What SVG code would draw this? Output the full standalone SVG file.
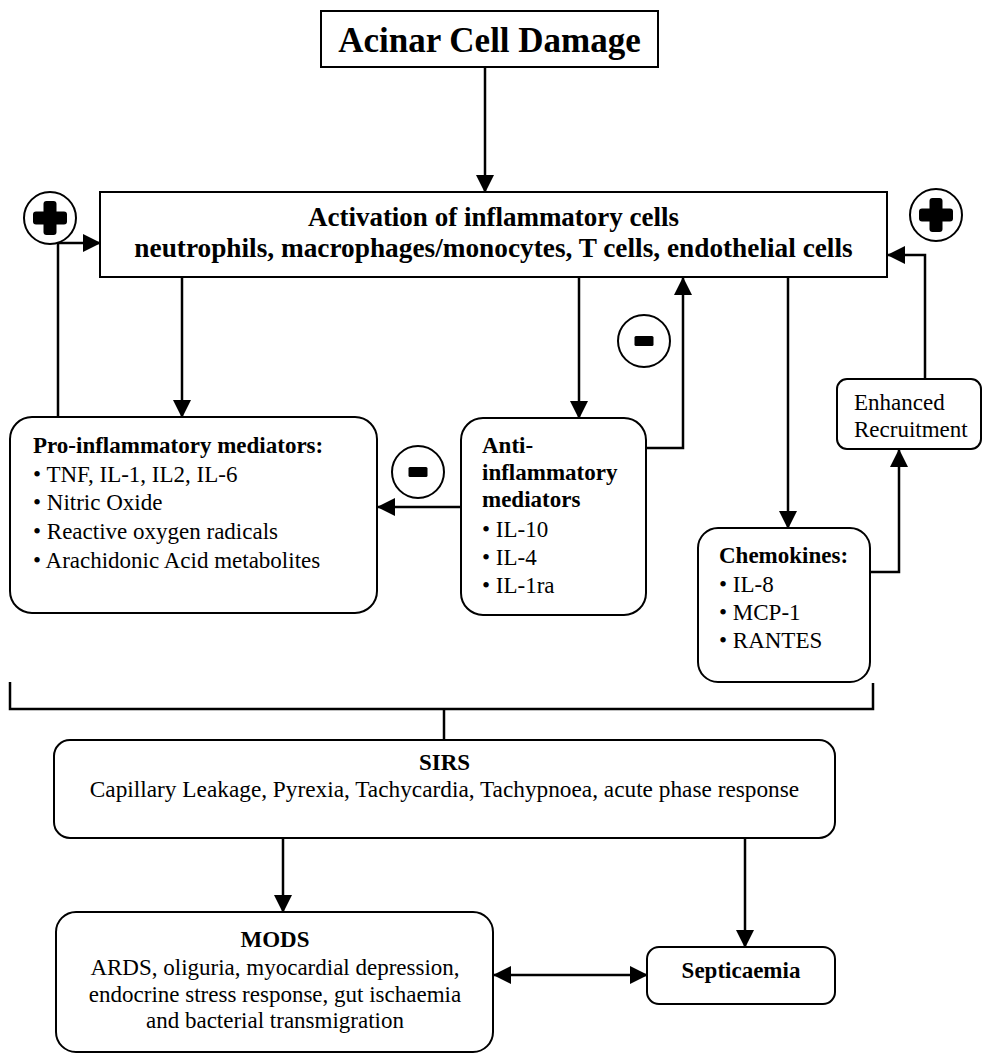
<svg xmlns="http://www.w3.org/2000/svg" width="983" height="1054" viewBox="0 0 983 1054">
<defs>
<marker id="ah" markerUnits="userSpaceOnUse" markerWidth="18" markerHeight="18" viewBox="0 0 18 18" refX="17" refY="9" orient="auto-start-reverse">
<path d="M0,0 L18,9 L0,18 z" fill="#000"/>
</marker>
<g id="plusSign">
<circle cx="0" cy="0" r="26" fill="#fff" stroke="#000" stroke-width="2"/>
<rect x="-17" y="-6.5" width="34" height="13" rx="3" fill="#000"/>
<rect x="-6.5" y="-17" width="13" height="34" rx="3" fill="#000"/>
</g>
<g id="minusSign">
<circle cx="0" cy="0" r="26" fill="#fff" stroke="#000" stroke-width="2"/>
<rect x="-9.5" y="-5" width="19" height="10" rx="1.5" fill="#000"/>
</g>
</defs>
<style>
text{font-family:"Liberation Serif","Times New Roman",serif;fill:#000}
.b{font-weight:bold}
.c{text-anchor:middle}
.t23{font-size:23px}
.box{fill:#fff;stroke:#000;stroke-width:2}
.ln{fill:none;stroke:#000;stroke-width:2.5}
.ar{fill:none;stroke:#000;stroke-width:2.5;marker-end:url(#ah)}
</style>
<rect width="983" height="1054" fill="#fff"/>

<g id="connectors">
<path class="ar" d="M485,67 V192"/>
<path class="ar" d="M58,417 V243 H100"/>
<path class="ar" d="M182,277 V417"/>
<path class="ar" d="M461,507 H378"/>
<path class="ar" d="M579,277 V418"/>
<path class="ar" d="M646,448 H683 V278"/>
<path class="ar" d="M788,277 V528"/>
<path class="ar" d="M870,572 H899 V450"/>
<path class="ar" d="M925,379 V255 H888"/>
<path class="ln" stroke-width="3" d="M10,682 V709 H873 V683"/>
<path class="ln" d="M444,709 V740"/>
<path class="ar" d="M283,838 V912"/>
<path class="ar" d="M745,838 V947"/>
<path class="ar" style="marker-start:url(#ah)" d="M494,975 H647"/>
</g>

<g id="signs">
<use href="#plusSign" x="50" y="218"/>
<use href="#plusSign" x="936" y="215"/>
<use href="#minusSign" x="418" y="472"/>
<use href="#minusSign" x="644" y="341"/>
</g>

<g id="acinar">
<rect class="box" x="321" y="11" width="337" height="56"/>
<text class="b c" x="489.5" y="52" font-size="35">Acinar Cell Damage</text>
</g>

<g id="activation">
<rect class="box" x="100" y="192" width="787" height="85"/>
<text class="b c" x="493.5" y="226" font-size="27">Activation of inflammatory cells</text>
<text class="b c" x="493.5" y="257" font-size="27.3">neutrophils, macrophages/monocytes, T cells, endothelial cells</text>
</g>

<g id="pro">
<rect class="box" x="10" y="417" width="367" height="196" rx="22"/>
<text class="b t23" x="33" y="453">Pro-inflammatory mediators:</text>
<text class="t23" x="33" y="482">• TNF, IL-1, IL2, IL-6</text>
<text class="t23" x="33" y="510">• Nitric Oxide</text>
<text class="t23" x="33" y="539">• Reactive oxygen radicals</text>
<text class="t23" x="33" y="568">• Arachidonic Acid metabolites</text>
</g>

<g id="anti">
<rect class="box" x="461" y="418" width="185" height="197" rx="22"/>
<text class="b t23" x="482" y="453">Anti-</text>
<text class="b t23" x="482" y="480">inflammatory</text>
<text class="b t23" x="482" y="507">mediators</text>
<text class="t23" x="482" y="537">• IL-10</text>
<text class="t23" x="482" y="565">• IL-4</text>
<text class="t23" x="482" y="593">• IL-1ra</text>
</g>

<g id="chemokines">
<rect class="box" x="698" y="528" width="172" height="154" rx="20"/>
<text class="b t23" x="719" y="563">Chemokines:</text>
<text class="t23" x="719" y="592">• IL-8</text>
<text class="t23" x="719" y="620">• MCP-1</text>
<text class="t23" x="719" y="648">• RANTES</text>
</g>

<g id="enhanced">
<rect class="box" x="837" y="379" width="144" height="70" rx="10"/>
<text class="t23" x="854" y="410">Enhanced</text>
<text class="t23" x="854" y="437">Recruitment</text>
</g>

<g id="sirs">
<rect class="box" x="54" y="740" width="781" height="98" rx="16"/>
<text class="b c t23" x="444.5" y="770">SIRS</text>
<text class="c" x="444.5" y="797" font-size="23.3">Capillary Leakage, Pyrexia, Tachycardia, Tachypnoea, acute phase response</text>
</g>

<g id="mods">
<rect class="box" x="56" y="912" width="437" height="140" rx="20"/>
<text class="b c t23" x="275" y="947">MODS</text>
<text class="c t23" x="275" y="975">ARDS, oliguria, myocardial depression,</text>
<text class="c t23" x="275" y="1002">endocrine stress response, gut ischaemia</text>
<text class="c t23" x="275" y="1028">and bacterial transmigration</text>
</g>

<g id="septicaemia">
<rect class="box" x="647" y="947" width="188" height="57" rx="12"/>
<text class="b c t23" x="741" y="978">Septicaemia</text>
</g>
</svg>
